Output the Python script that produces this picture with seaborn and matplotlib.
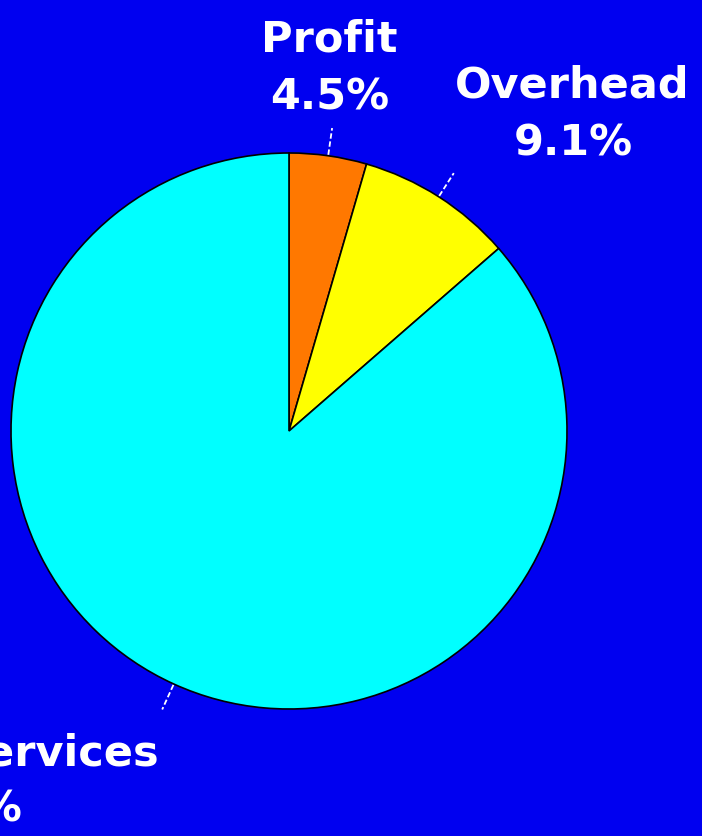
import numpy as np
import matplotlib
matplotlib.use("Agg")
import matplotlib.pyplot as plt
import seaborn as sns

# Budget breakdown
categories = ["Profit", "Overhead", "Services"]
shares = [4.5, 9.1, 86.4]
value_labels = ["4.5%", "9.1%", "86.4%"]

slice_colors = ["#ff7800", "#ffff00", "#00ffff"]
background = "#0000f0"

sns.set_style("white")
plt.rcParams["font.family"] = ["DejaVu Sans"]

W, H = 702, 836
fig = plt.figure(figsize=(W / 100, H / 100), dpi=100, facecolor=background)
ax = fig.add_axes([0, 0, 1, 1])
ax.set_facecolor(background)
ax.set_xlim(0, W)
ax.set_ylim(0, H)
ax.set_aspect("equal")
ax.axis("off")

cx, cy, radius = 289, H - 431, 278

wedges, _ = ax.pie(
    shares,
    colors=slice_colors,
    startangle=90,
    counterclock=False,
    center=(cx, cy),
    radius=radius,
    wedgeprops=dict(edgecolor="black", linewidth=1.2),
    frame=True,
)
ax.set_xlim(0, W)
ax.set_ylim(0, H)
ax.axis("off")

# leader ticks radiating out of each wedge's midpoint
for w in wedges:
    mid = np.deg2rad((w.theta1 + w.theta2) / 2)
    r0, r1 = radius + 1, radius + 28
    ax.plot([cx + r0 * np.cos(mid), cx + r1 * np.cos(mid)],
            [cy + r0 * np.sin(mid), cy + r1 * np.sin(mid)],
            color="white", lw=1.3, ls=(0, (3, 1.5)))

# label placement: (x, name baseline, value baseline, alignment)
placement = {
    "Profit": (329, H - 52, H - 110, "center"),
    "Overhead": (572, H - 97, H - 155, "center"),
    "Services": (None, H - 765, H - 822, "right"),
}
txt = dict(color="white", fontsize=31, fontweight="bold", va="baseline")
for name, val in zip(categories, value_labels):
    x, y1, y2, ha = placement[name]
    if ha == "center":
        ax.text(x, y1, name, ha="center", **txt)
        ax.text(x + 1, y2, val, ha="center", **txt)
    else:
        ax.text(160, y1, name, ha="right", **txt)
        ax.text(22, y2, val, ha="right", **txt)

fig.savefig("out.png", dpi=100, facecolor=background)
